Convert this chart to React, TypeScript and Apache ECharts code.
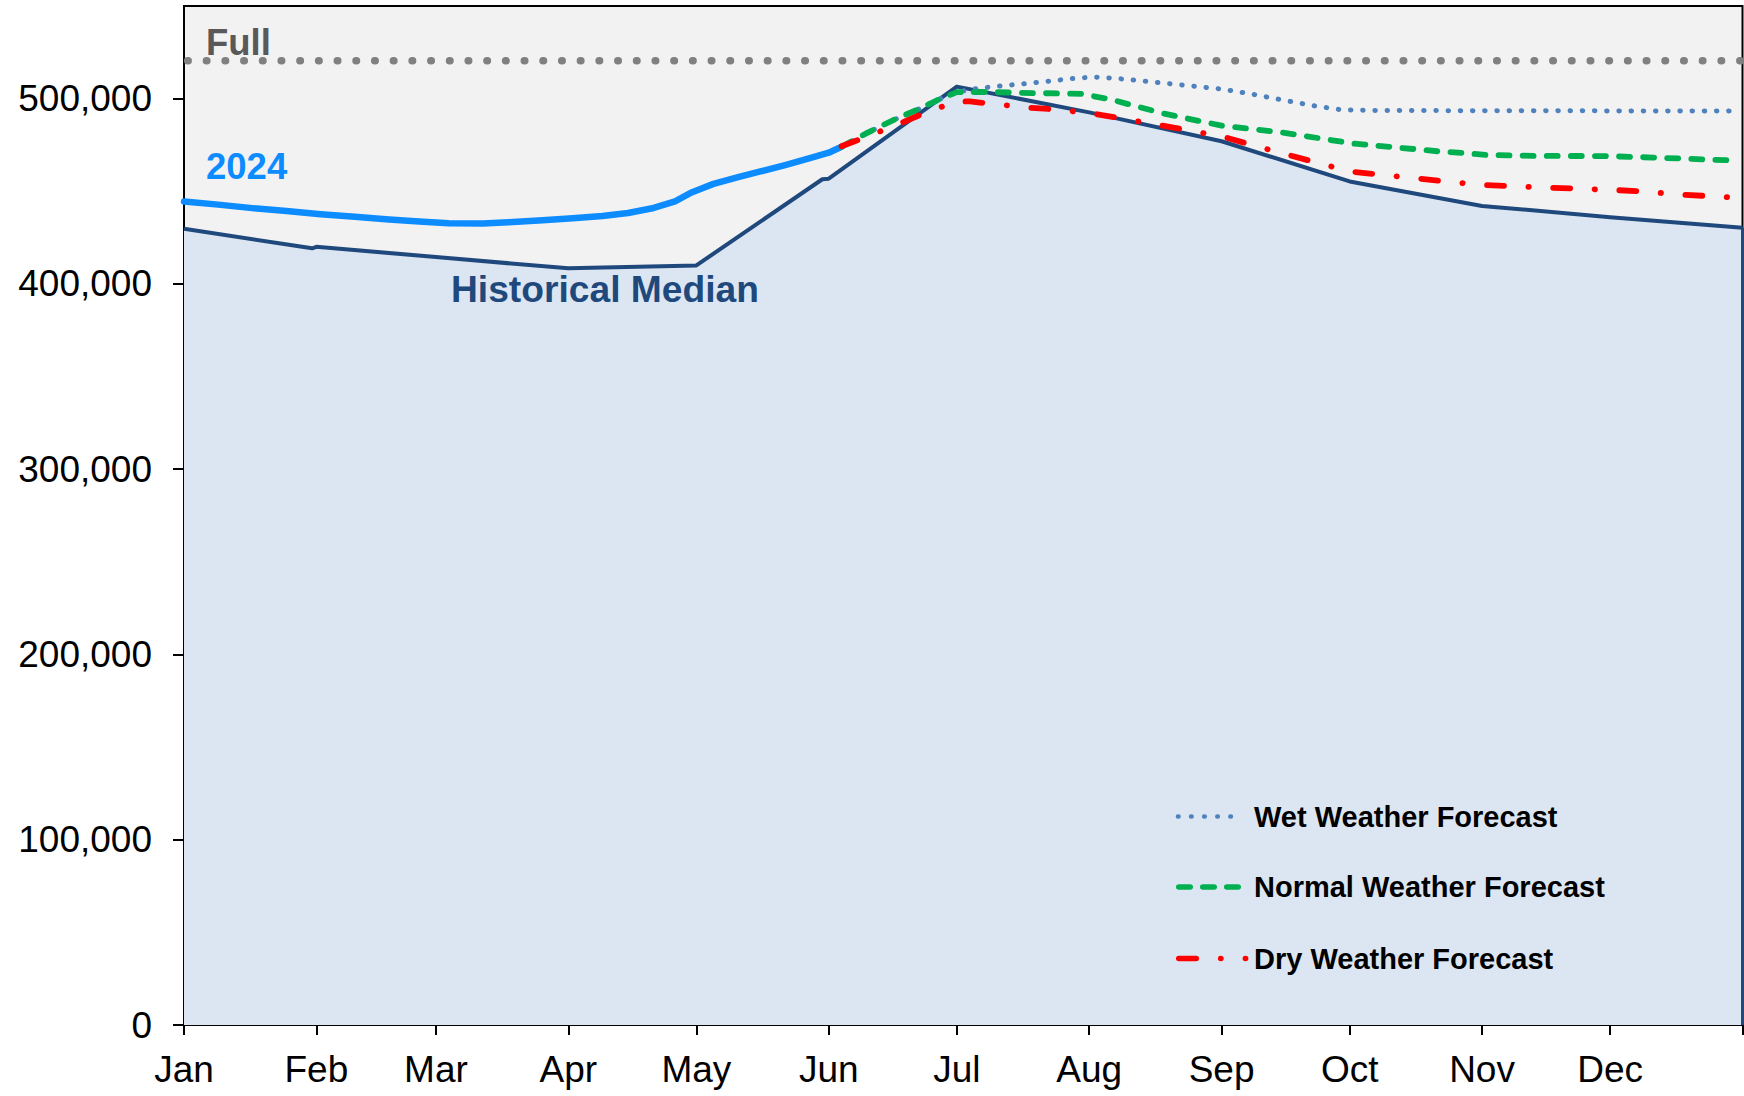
import React, { useEffect, useRef } from 'react';
import * as echarts from 'echarts';

// ---------- data ----------
const MONTHS = ['Jan', 'Feb', 'Mar', 'Apr', 'May', 'Jun', 'Jul', 'Aug', 'Sep', 'Oct', 'Nov', 'Dec'];
const MONTH_START_DAYS = [0, 31, 59, 90, 120, 151, 181, 212, 243, 273, 304, 334, 365];
const Y_TICKS = [0, 100000, 200000, 300000, 400000, 500000];
const FULL_LEVEL = 520400;

// [day of year, storage]
const historicalMedian: [number, number][] = [
  [0, 429800], [30, 419200], [31, 420000], [59, 414500], [90, 408400], [120, 410000],
  [149.5, 456500], [151, 456800], [181, 506500], [212, 492600], [243, 477000],
  [273, 455300], [304, 442100], [334, 436000], [365, 430300],
];

const storage2024: [number, number][] = [
  [0, 444500], [8, 442800], [16, 440900], [24, 439300], [32, 437600], [40, 436300],
  [48, 434800], [56, 433600], [62, 432800], [70, 432600], [76, 433300], [84, 434300],
  [91, 435400], [98, 436700], [104, 438300], [110, 441000], [115, 444600], [119, 449500],
  [124, 454000], [130, 457800], [135, 460700], [141, 464300], [148, 468800], [151, 470800],
  [154, 474000],
];

const wetForecast: [number, number][] = [
  [154, 474000], [160, 481500], [166, 488300], [172, 494300], [177, 499800], [181, 503500],
  [185, 505200], [190, 506600], [197, 508100], [202, 509300], [208, 510800], [213, 511700],
  [218, 511000], [229, 508500], [243, 505200], [250, 502500], [257, 499400], [265, 496000],
  [271, 494000], [280, 493600], [300, 493500], [330, 493400], [362, 493300],
];

const normalForecast: [number, number][] = [
  [154, 474000], [160, 481500], [166, 488300], [172, 494300], [177, 499800], [181, 503500],
  [188, 503600], [199, 503000], [210, 502600], [217, 499600], [229, 492200], [243, 485400],
  [257, 481800], [274, 475700], [288, 472800], [294, 471500], [300, 470600], [305, 469600],
  [316, 469100], [333, 469000], [344, 468200], [361, 466800], [364, 466600],
];

const dryForecast: [number, number][] = [
  [154, 474300], [160, 479600], [167, 485900], [174, 492800], [181, 498500], [184, 498500],
  [190, 497000], [197, 495300], [205, 494000], [213, 491900], [228, 485900], [243, 479600],
  [257, 470600], [273, 460700], [288, 457100], [296, 455200], [304, 453400], [312, 452700],
  [319, 452000], [335, 450700], [343, 449700], [350, 448200], [358, 447300], [365, 446300],
];

const fullLine: [number, number][] = [[0, FULL_LEVEL], [365, FULL_LEVEL]];

// ---------- styles ----------
const FONT = '"Liberation Sans", Arial, Helvetica, sans-serif';
const NAVY = '#1F497D';
const BLUE2024 = '#0C8CFF';
const WET = '#4F81BD';
const NORMAL = '#00B050';
const DRY = '#FF0000';
const GRAY = '#808080';

const WET_DASH = [0.5, 11.7];
const NORMAL_DASH = [10.9, 13.2];
const DRY_DASH = [16.9, 24.5, 0.3, 24.5];

const fmt = (v: number) => String(v).replace(/\B(?=(\d{3})+(?!\d))/g, ',');

export default function App() {
  const ref = useRef<HTMLDivElement>(null);

  useEffect(() => {
    document.body.style.margin = '0';
    if (!ref.current) return;
    const chart = echarts.init(ref.current, undefined, { renderer: 'svg' });

    const legendRows = [
      { name: 'Wet Weather Forecast', color: WET, dash: [0.5, 12.6], width: 4.6, y: 816.5, x1: 1178, x2: 1242 },
      { name: 'Normal Weather Forecast', color: NORMAL, dash: [11.4, 12.6], width: 5.6, y: 887, x1: 1178.8, x2: 1239.3 },
      { name: 'Dry Weather Forecast', color: DRY, dash: [17.4, 24.5, 0.2, 24.5, 0.2, 100], width: 5.6, y: 958.5, x1: 1178.8, x2: 1245.6 },
    ];

    const graphic: any[] = [
      { type: 'text', z: 100, x: 206, y: 42.5, style: { text: 'Full', font: `bold 36.5px ${FONT}`, fill: '#595959', verticalAlign: 'middle', align: 'left' } },
      { type: 'text', z: 100, x: 206, y: 166, style: { text: '2024', font: `bold 36.5px ${FONT}`, fill: BLUE2024, verticalAlign: 'middle', align: 'left' } },
      { type: 'text', z: 100, x: 451, y: 288.5, style: { text: 'Historical Median', font: `bold 37.2px ${FONT}`, fill: NAVY, verticalAlign: 'middle', align: 'left' } },
    ];
    legendRows.forEach((r) => {
      graphic.push({
        type: 'line', z: 100,
        shape: { x1: r.x1, y1: r.y, x2: r.x2, y2: r.y },
        style: { stroke: r.color, lineWidth: r.width, lineDash: r.dash, lineCap: 'round' },
      });
      graphic.push({
        type: 'text', z: 100, x: 1254, y: r.y,
        style: { text: r.name, font: `bold 29px ${FONT}`, fill: '#000', verticalAlign: 'middle', align: 'left' },
      });
    });

    const lineBase = { type: 'line', symbol: 'none', showSymbol: false, silent: true, animation: false };
    const lastMedian = historicalMedian[historicalMedian.length - 1];

    const option: any = {
      animation: false,
      backgroundColor: '#ffffff',
      textStyle: { fontFamily: FONT },
      grid: {
        left: 184, right: 1.5, top: 6, bottom: 71,
        show: true, backgroundColor: '#F2F2F2', borderColor: '#000', borderWidth: 2,
        containLabel: false, outerBoundsMode: 'none',
      },
      xAxis: {
        type: 'value', min: 0, max: 365,
        axisLine: { show: true, onZero: false, lineStyle: { color: '#000', width: 2 } },
        axisTick: { show: true, customValues: MONTH_START_DAYS, length: 10, lineStyle: { color: '#000', width: 2 } },
        axisLabel: {
          customValues: MONTH_START_DAYS.slice(0, 12),
          formatter: (v: number) => {
            const i = MONTH_START_DAYS.indexOf(Math.round(v));
            return i >= 0 && i < 12 ? MONTHS[i] : '';
          },
          fontSize: 37, lineHeight: 37, color: '#000', fontFamily: FONT, margin: 26,
        },
        splitLine: { show: false },
      },
      yAxis: {
        type: 'value', min: 0, max: 550000,
        axisLine: { show: true, lineStyle: { color: '#000', width: 2 } },
        axisTick: { show: true, customValues: Y_TICKS, length: 11, lineStyle: { color: '#000', width: 2 } },
        axisLabel: {
          customValues: Y_TICKS,
          formatter: (v: number) => fmt(v),
          fontSize: 37, color: '#000', fontFamily: FONT, margin: 32,
        },
        splitLine: { show: false },
      },
      graphic,
      series: [
        {
          ...lineBase, name: 'Full', z: 2, data: fullLine,
          lineStyle: { color: GRAY, width: 7.5, type: [0.5, 18.2], cap: 'round', dashOffset: 15.4 },
        },
        {
          ...lineBase, name: 'Historical Median', z: 2, data: historicalMedian,
          lineStyle: { color: NAVY, width: 4, join: 'round' },
          areaStyle: { color: '#DCE6F2', opacity: 1 },
          markLine: {
            silent: true, animation: false, symbol: ['none', 'none'],
            label: { show: false },
            lineStyle: { color: NAVY, width: 4, type: 'solid' },
            data: [[{ coord: [lastMedian[0], 0] }, { coord: lastMedian }]],
          },
        },
        {
          ...lineBase, name: '2024', z: 3, data: storage2024,
          lineStyle: { color: BLUE2024, width: 6.5, join: 'round', cap: 'round' },
        },
        {
          ...lineBase, name: 'Wet Weather Forecast', z: 3, data: wetForecast,
          lineStyle: { color: WET, width: 5, type: WET_DASH, cap: 'round', join: 'round' },
        },
        {
          ...lineBase, name: 'Normal Weather Forecast', z: 3, data: normalForecast,
          lineStyle: { color: NORMAL, width: 5.8, type: NORMAL_DASH, cap: 'round', join: 'round' },
        },
        {
          ...lineBase, name: 'Dry Weather Forecast', z: 3, data: dryForecast,
          lineStyle: { color: DRY, width: 5.8, type: DRY_DASH, cap: 'round', join: 'round' },
        },
      ],
    };

    chart.setOption(option);
    return () => chart.dispose();
  }, []);

  return (
    <div
      ref={ref}
      style={{ position: 'fixed', left: 0, top: 0, width: 1744, height: 1096, background: '#fff' }}
    />
  );
}
